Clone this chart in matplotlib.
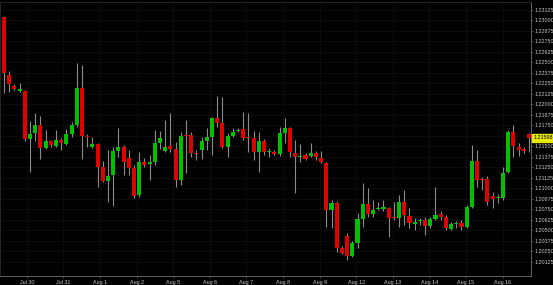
import numpy as np
import matplotlib
matplotlib.use('Agg')
import matplotlib.pyplot as plt
import matplotlib.transforms as mtransforms

# 4-hour candles
opens = [1.23038, 1.22348, 1.22217, 1.22157, 1.22157, 1.21586, 1.21657, 1.21752, 1.21479, 1.21562,
         1.21502, 1.21574, 1.21526, 1.21645, 1.21752, 1.22193, 1.21621, 1.21491, 1.21526, 1.21252,
         1.21086, 1.21157, 1.21443, 1.21491, 1.21360, 1.21240, 1.20919, 1.21312, 1.21288, 1.21312,
         1.21538, 1.21443, 1.21502, 1.21467, 1.21098, 1.21633, 1.21633, 1.21419, 1.21455, 1.21562,
         1.21610, 1.21836, 1.21776, 1.21491, 1.21621, 1.21681, 1.21705, 1.21610, 1.21598, 1.21431,
         1.21562, 1.21431, 1.21431, 1.21407, 1.21657, 1.21717, 1.21419, 1.21371, 1.21395, 1.21383,
         1.21419, 1.21360, 1.21300, 1.20740, 1.20824, 1.20288, 1.20431, 1.20193, 1.20348, 1.20633,
         1.20812, 1.20693, 1.20752, 1.20752, 1.20764, 1.20657, 1.20645, 1.20836, 1.20669, 1.20574,
         1.20610, 1.20621, 1.20550, 1.20633, 1.20693, 1.20657, 1.20514, 1.20574, 1.20586, 1.20538,
         1.20776, 1.21324, 1.21110, 1.21110, 1.20907, 1.20883, 1.20883, 1.21193, 1.21669, 1.21491,
         1.21467, 1.21645]
highs = [1.23050, 1.22395, 1.22240, 1.22252, 1.22169, 1.21800, 1.21895, 1.21860, 1.21693, 1.21574,
         1.21693, 1.21598, 1.21705, 1.21788, 1.22490, 1.22467, 1.21645, 1.21610, 1.21538, 1.21324,
         1.21455, 1.21491, 1.21717, 1.21514, 1.21455, 1.21276, 1.21431, 1.21360, 1.21395, 1.21693,
         1.21681, 1.21812, 1.21895, 1.21550, 1.21669, 1.21812, 1.21669, 1.21455, 1.21610, 1.21717,
         1.21848, 1.22098, 1.22086, 1.21657, 1.21717, 1.21717, 1.21907, 1.21895, 1.21681, 1.21669,
         1.21586, 1.21479, 1.21455, 1.21729, 1.21836, 1.21729, 1.21574, 1.21526, 1.21419, 1.21538,
         1.21443, 1.21443, 1.21312, 1.20860, 1.20848, 1.20312, 1.20467, 1.20371, 1.20705, 1.21062,
         1.21002, 1.20860, 1.20836, 1.20860, 1.20776, 1.20836, 1.20919, 1.20979, 1.20764, 1.20645,
         1.20645, 1.20657, 1.20657, 1.21014, 1.20729, 1.20681, 1.20598, 1.20610, 1.20621, 1.20800,
         1.21514, 1.21455, 1.21133, 1.21145, 1.20955, 1.20931, 1.21252, 1.21693, 1.21752, 1.21538,
         1.21491, 1.21657]
lows = [1.22133, 1.22145, 1.22169, 1.22145, 1.21562, 1.21193, 1.21562, 1.21348, 1.21467, 1.21491,
        1.21491, 1.21455, 1.21514, 1.21610, 1.21729, 1.21348, 1.21491, 1.21479, 1.21014, 1.21074,
        1.20836, 1.20788, 1.21371, 1.21157, 1.21157, 1.20883, 1.20895, 1.21252, 1.21098, 1.21276,
        1.21467, 1.21431, 1.21431, 1.21014, 1.21038, 1.21181, 1.21371, 1.21336, 1.21348, 1.21455,
        1.21395, 1.21729, 1.21479, 1.21371, 1.21610, 1.21669, 1.21574, 1.21431, 1.21336, 1.21193,
        1.21395, 1.21371, 1.21395, 1.21383, 1.21538, 1.21371, 1.20943, 1.21312, 1.21336, 1.21371,
        1.21336, 1.21300, 1.20538, 1.20526, 1.20241, 1.20217, 1.20145, 1.20181, 1.20288, 1.20538,
        1.20657, 1.20657, 1.20740, 1.20729, 1.20419, 1.20621, 1.20538, 1.20562, 1.20526, 1.20502,
        1.20562, 1.20443, 1.20526, 1.20621, 1.20621, 1.20502, 1.20502, 1.20526, 1.20502, 1.20526,
        1.20764, 1.21014, 1.20979, 1.20800, 1.20764, 1.20824, 1.20860, 1.21181, 1.21371, 1.21383,
        1.21419, 1.21431]
closes = [1.22371, 1.22240, 1.22181, 1.22181, 1.21586, 1.21645, 1.21752, 1.21479, 1.21562, 1.21514,
          1.21574, 1.21538, 1.21645, 1.21752, 1.22193, 1.21621, 1.21610, 1.21526, 1.21252, 1.21086,
          1.21145, 1.21443, 1.21491, 1.21312, 1.21240, 1.20907, 1.21312, 1.21276, 1.21312, 1.21538,
          1.21598, 1.21491, 1.21467, 1.21098, 1.21621, 1.21621, 1.21419, 1.21407, 1.21562, 1.21610,
          1.21836, 1.21776, 1.21491, 1.21621, 1.21669, 1.21693, 1.21598, 1.21598, 1.21431, 1.21562,
          1.21431, 1.21443, 1.21407, 1.21657, 1.21717, 1.21431, 1.21371, 1.21383, 1.21348, 1.21419,
          1.21371, 1.21312, 1.20740, 1.20824, 1.20288, 1.20229, 1.20193, 1.20348, 1.20633, 1.20812,
          1.20693, 1.20740, 1.20764, 1.20776, 1.20645, 1.20645, 1.20836, 1.20681, 1.20586, 1.20598,
          1.20621, 1.20550, 1.20633, 1.20681, 1.20657, 1.20526, 1.20574, 1.20586, 1.20538, 1.20776,
          1.21324, 1.21098, 1.21098, 1.20836, 1.20871, 1.20895, 1.21181, 1.21669, 1.21502, 1.21455,
          1.21443, 1.21598]
was_up = [c >= o for o, c in zip(opens, closes)]

day_labels = ['Jul 30', 'Jul 31', 'Aug 1', 'Aug 2', 'Aug 5', 'Aug 6', 'Aug 7',
              'Aug 8', 'Aug 9', 'Aug 12', 'Aug 13', 'Aug 14', 'Aug 15', 'Aug 16']
price_ticks = np.arange(1.20125, 1.23126, 0.00125)

GREEN = '#00c000'
RED = '#e00000'
WICK = '#8c8c8c'
TXT = '#c8c8c8'
font = ['Liberation Sans', 'DejaVu Sans']

fig = plt.figure(figsize=(5.53, 2.85), dpi=100, facecolor='black')
ax = fig.add_axes([0.0, 0.0316, 0.960, 0.9614])
ax.set_facecolor('black')

x = np.arange(len(opens))
o = np.array(opens)
c = np.array(closes)
cols = [GREEN if u else RED for u in was_up]

ax.vlines(x, lows, highs, color=WICK, linewidth=0.8, zorder=2)
bottoms = np.minimum(o, c)
heights = np.maximum(np.abs(c - o), 0.00015)
ax.bar(x, heights, bottom=bottoms, width=0.78, color=cols, linewidth=0, zorder=3)

ax.set_xlim(-0.77, 101.35)
ax.set_ylim(1.19955, 1.23217)

last = closes[-1]
tick_x = [4.4 + 7.04 * k for k in range(len(day_labels))]
ax.set_xticks(tick_x)
ax.set_xticklabels(day_labels)
ax.set_yticks(price_ticks)
# the label under the price tag is hidden, as in the original
ax.set_yticklabels(['' if abs(v - last) < 0.0006 else '%.5f' % v for v in price_ticks])
ax.yaxis.tick_right()

ax.tick_params(axis='both', colors='#606060', labelcolor=TXT, labelsize=3.9,
               length=1.5, width=0.5, pad=1.2)
for lab in ax.get_xticklabels() + ax.get_yticklabels():
    lab.set_family(font)

ax.grid(True, color='#0e0e0e', linewidth=0.6)
for side in ['left', 'top']:
    ax.spines[side].set_color('#2a2a2a')
    ax.spines[side].set_linewidth(0.6)
for side in ['right', 'bottom']:
    ax.spines[side].set_color('#707070')
    ax.spines[side].set_linewidth(0.6)

# current price tag on the right axis
trans = mtransforms.blended_transform_factory(ax.transAxes, ax.transData)
ax.text(1.005, last, '%.5f' % last, transform=trans, ha='left', va='center',
        fontsize=3.9, family=font, color='black', clip_on=False, zorder=5,
        bbox=dict(boxstyle='square,pad=0.3', fc='#e8e810', ec='#e8e810'))

fig.savefig('out.png', dpi=100, facecolor='black')
